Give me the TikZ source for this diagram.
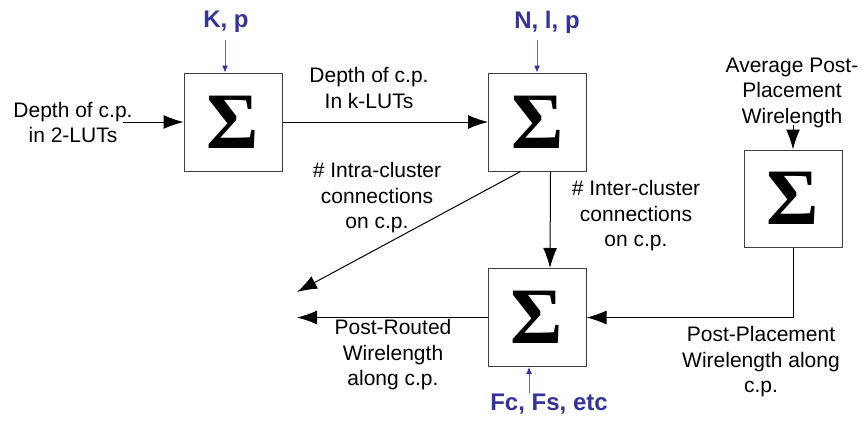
\documentclass[tikz,border=0pt]{standalone}
\usepackage{fontspec}
\setmainfont{Liberation Sans}
\newfontfamily\sigfont{Liberation Serif}
\usetikzlibrary{arrows.meta}
\definecolor{lblue}{HTML}{333399}
\tikzset{
 sbox/.style={draw=black!75, line width=1pt, minimum width=98pt, minimum height=98pt, inner sep=0pt, font=\sigfont\bfseries\fontsize{80}{80}\selectfont},
 lab/.style={align=center, inner sep=0pt, font=\fontsize{21}{25.5}\selectfont},
 blab/.style={inner sep=0pt, text=lblue, font=\bfseries\fontsize{24}{28}\selectfont},
 arr/.style={line width=1pt, -{Latex[length=20pt,width=14pt]}},
 barr/.style={draw=lblue!75, line width=1pt, -{Latex[length=7pt,width=6pt,color=lblue]}},
}
\begin{document}
\begin{tikzpicture}[x=1pt,y=-1pt]
\useasboundingbox (0,0) rectangle (866,420);
\node[sbox] (b1) at (233,122) {Σ};
\node[sbox] (b2) at (537.5,122) {Σ};
\node[sbox, minimum height=97pt] (b3) at (793,198.5) {Σ};
\node[sbox] (b4) at (537,317.5) {Σ};

\node[lab] (in1) at (73,122.5) {Depth of c.p.\\in 2-LUTs};
\coordinate (in1e) at (123,122);
\draw[arr] (in1e) -- (b1);
\draw[arr] (b1) -- (b2);
\node[lab] (l12) at (369,88) {Depth of c.p.\\In k-LUTs};

\node[blab] (kp) at (226,22) {K, p};
\coordinate (kpe) at (225,40);
\draw[barr] (kpe) -- (kpe |- b1.north);
\node[blab] (nlp) at (547,22) {N, l, p};
\coordinate (nlpe) at (537,40);
\draw[barr] (nlpe) -- (nlpe |- b2.north);
\node[blab] (fc) at (549,404) {Fc, Fs, etc};
\coordinate (fce) at (529,393);
\draw[barr] (fce) -- (fce |- b4.south);

\draw[arr] ([xshift=13pt]b2.south) -- ([xshift=13pt]b4.north);
\node[lab] (inter) at (636,216) {\# Inter-cluster\\connections\\on c.p.};
\coordinate (intrae) at (297,292);
\draw[arr] ([xshift=-17pt]b2.south) -- (intrae);
\node[lab] (intra) at (377,198) {\# Intra-cluster\\connections\\on c.p.};

\node[lab] (avg) at (792,92.5) {Average Post-\\Placement\\Wirelength};
\coordinate (avge) at (793,125);
\draw[arr] (avge) -- (b3.north);
\draw[arr] (b3.south) |- (b4.east);
\node[lab] (pp) at (761,362) {Post-Placement\\Wirelength along\\c.p.};

\coordinate (route) at (297,317.5);
\draw[arr] (b4.west) -- (route);
\node[lab] (pr) at (393,355) {Post-Routed\\Wirelength\\along c.p.};
\end{tikzpicture}
\end{document}
